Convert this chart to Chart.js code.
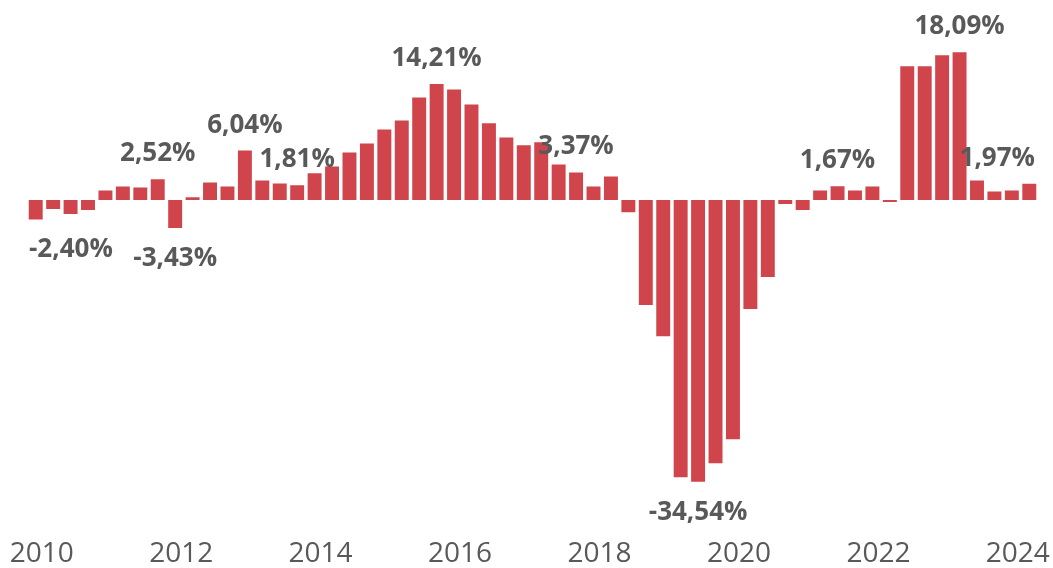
<!DOCTYPE html>
<html>
<head>
<meta charset="utf-8">
<script src="https://cdn.jsdelivr.net/npm/chart.js@4.4.1/dist/chart.umd.min.js"></script>
<style>
  html, body { margin:0; padding:0; background:#fff; }
  #wrap { width:1053px; height:568px; position:relative; }
</style>
</head>
<body>
<div id="wrap"><canvas id="chart"></canvas></div>
<script>
// quarterly change, 2010 Q1 .. 2024 Q2
const YEARS = ['2010','2011','2012','2013','2014','2015','2016','2017','2018','2019','2020','2021','2022','2023','2024'];
const TICK_YEARS = ['2010','2012','2014','2016','2018','2020','2022','2024'];
const VALUES = [
  -2.40, -1.13, -1.74, -1.25,   // 2010
   1.16,  1.65,  1.53,  2.52,   // 2011
  -3.43,  0.31,  2.14,  1.65,   // 2012
   6.04,  2.39,  2.02,  1.81,   // 2013
   3.25,  4.10,  5.82,  6.92,   // 2014
   8.64,  9.74, 12.56, 14.21,   // 2015
  13.54, 11.70,  9.38,  7.66,   // 2016
   6.68,  7.05,  4.35,  3.37,   // 2017
   1.65,  2.88, -1.50, -12.89,  // 2018
 -16.69, -33.97, -34.54, -32.25,// 2019
 -29.31, -13.38, -9.46, -0.51,  // 2020
  -1.25,  1.16,  1.67,  1.16,   // 2021
   1.65, -0.27, 16.36, 16.36,   // 2022
  17.71, 18.09,  2.39,  1.04,   // 2023
   1.16,  1.97                  // 2024
];
// bars that carry a value label
const LABELLED = [0, 7, 8, 12, 15, 23, 31, 38, 46, 53, 57];

const BAR_COLOR = '#d0444b';
const TEXT_COLOR = '#595959';

const CATEGORIES = [];
YEARS.forEach(y => ['Q1','Q2','Q3','Q4'].forEach(q => CATEGORIES.push(y + ' ' + q)));
CATEGORIES.length = VALUES.length;

Chart.defaults.font.family = '"Open Sans", "Noto Sans", sans-serif';

const fmt = v => v.toFixed(2).replace('.', ',') + '%';

const valueLabels = {
  id: 'valueLabels',
  afterDatasetsDraw(chart) {
    const ctx = chart.ctx, area = chart.chartArea;
    const meta = chart.getDatasetMeta(0);
    ctx.save();
    ctx.font = 'bold 26px "Open Sans", sans-serif';
    ctx.fillStyle = TEXT_COLOR;
    ctx.textBaseline = 'alphabetic';
    ctx.textAlign = 'left';
    LABELLED.forEach(i => {
      const bar = meta.data[i], v = VALUES[i];
      const txt = fmt(v);
      const w = ctx.measureText(txt).width;
      let x = bar.x - w / 2;
      if (x < area.left + 2) x = area.left + 2;
      if (x + w > area.right - 3) x = area.right - 3 - w;
      const y = v >= 0 ? bar.y - 18 : bar.y + 38;
      ctx.fillText(txt, x, y);
    });
    ctx.restore();
  }
};

new Chart(document.getElementById('chart'), {
  type: 'bar',
  data: {
    labels: CATEGORIES,
    datasets: [{ data: VALUES, backgroundColor: BAR_COLOR, barPercentage: 0.8, categoryPercentage: 1.0 }]
  },
  options: {
    responsive: true, maintainAspectRatio: false, animation: false,
    layout: { padding: { left: 27, right: 15, top: 4, bottom: -6 } },
    plugins: { legend: { display: false }, tooltip: { enabled: false } },
    scales: {
      x: {
        grid: { display: false }, border: { display: false },
        ticks: {
          autoSkip: false, maxRotation: 0, minRotation: 0, labelOffset: 6,
          color: TEXT_COLOR, font: { size: 28 },
          callback: (v, i) => (i % 8 === 0 ? TICK_YEARS[i / 8] : '')
        }
      },
      y: { display: false, min: -40, max: 24 }
    }
  },
  plugins: [valueLabels]
});
</script>
</body>
</html>
